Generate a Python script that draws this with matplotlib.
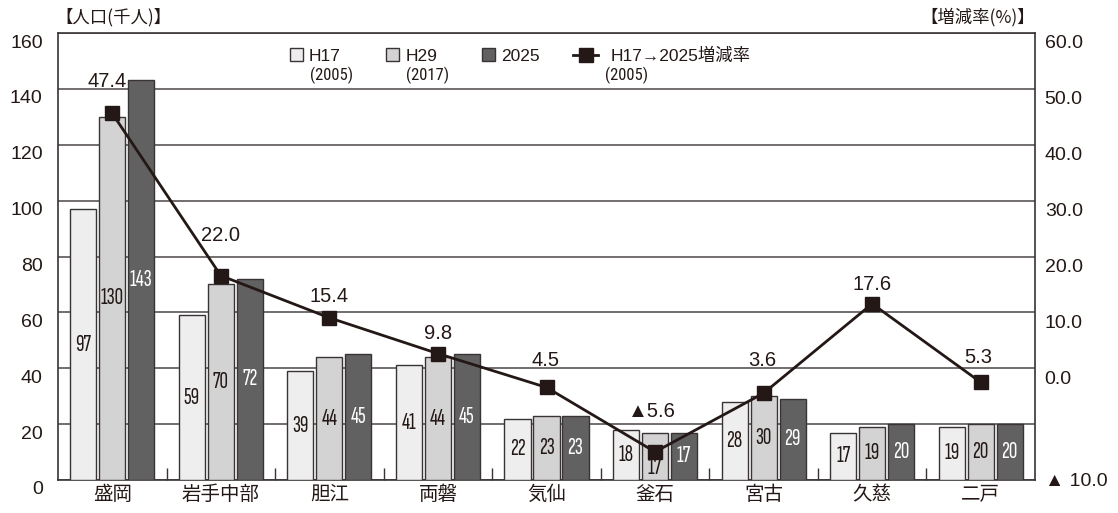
import matplotlib
matplotlib.use("Agg")
import matplotlib.pyplot as plt
import matplotlib.transforms as mtransforms
from matplotlib import font_manager
import numpy as np

# --- data -------------------------------------------------------------
regions = ["盛岡", "岩手中部", "胆江", "両磐", "気仙", "釜石", "宮古", "久慈", "二戸"]
pop_h17 = [97, 59, 39, 41, 22, 18, 28, 17, 19]
pop_h29 = [130, 70, 44, 44, 23, 17, 30, 19, 20]
pop_2025 = [143, 72, 45, 45, 23, 17, 29, 20, 20]
change_rate = [47.4, 22.0, 15.4, 9.8, 4.5, -5.6, 3.6, 17.6, 5.3]

left_ticks = [0, 20, 40, 60, 80, 100, 120, 140, 160]
right_tick_labels = ["▲ 10.0", "0.0", "10.0", "20.0", "30.0", "40.0", "50.0", "60.0"]

series_names = ["H17", "H29", "2025"]
series_years = ["(2005)", "(2017)", ""]
line_name = "H17→2025増減率"
line_year = "(2005)"

# --- fonts ------------------------------------------------------------
available = {f.name for f in font_manager.fontManager.ttflist}


def pick(*names):
    for n in names:
        if n in available:
            return n
    return "DejaVu Sans"


SANS = pick("Liberation Sans", "Arimo", "DejaVu Sans")
COND = pick("Roboto Condensed", "Fira Sans Condensed", "Sofia Sans Condensed", "Liberation Sans")
XCOND = pick("Sofia Sans Extra Condensed", "Fira Sans Extra Condensed", "Roboto Condensed", "Liberation Sans")
JP = "Noto Sans CJK JP"
plt.rcParams["font.family"] = [SANS, JP, "DejaVu Sans"]
INK = "#231815"

# --- figure -----------------------------------------------------------
fig = plt.figure(figsize=(11.18, 5.13), dpi=100)
ax = fig.add_axes([58 / 1118, 1 - 480 / 513, 977 / 1118, 447 / 513])

x = np.arange(len(regions))
step = 0.267
width = 0.24
colors = ["#eeeeee", "#d3d3d3", "#616161"]
text_colors = [INK, INK, "white"]
edge = "#3a3334"
# (series index, region index) -> vertical nudge of the value text, in pixels
label_nudge = {(1, 5): -12}

for i, (vals, c, tc) in enumerate(zip([pop_h17, pop_h29, pop_2025], colors, text_colors)):
    pos = x + (i - 1) * step
    ax.bar(pos, vals, width=width, color=c, edgecolor=edge, linewidth=1.0, zorder=3)
    for j, (px, v) in enumerate(zip(pos, vals)):
        dy = label_nudge.get((i, j), 0) * 0.72
        ax.annotate(str(v), (px, v / 2), xytext=(0, dy), textcoords="offset points",
                    ha="center", va="center", fontsize=17, color=tc,
                    family=[XCOND, "DejaVu Sans"], zorder=4)

ax.set_xlim(-0.5, len(regions) - 0.5)
ax.set_ylim(0, 160)
ax.set_yticks(left_ticks)
ax.set_yticklabels([str(t) for t in left_ticks], fontsize=14, color=INK)
ax.tick_params(axis="y", length=0, pad=11)
down = mtransforms.ScaledTranslation(0, -8 / 100, fig.dpi_scale_trans)
for lbl in ax.get_yticklabels():
    lbl.set_transform(lbl.get_transform() + down)
ax.set_xticks(x)
ax.set_xticklabels(regions, family=[JP], fontsize=14, color=INK)
ax.tick_params(axis="x", which="major", length=0, pad=3)
ax.set_xticks(np.arange(0.5, len(regions) - 0.5, 1.0), minor=True)
ax.tick_params(axis="x", which="minor", direction="in", length=8.5, width=1.0, color=edge)
ax.grid(axis="y", color="#5a5556", linewidth=1.2, zorder=0)
ax.set_axisbelow(True)
for s in ax.spines.values():
    s.set_color(edge)
    s.set_linewidth(1.2)

# --- change-rate line on the secondary axis ---------------------------
ax2 = ax.twinx()
ax2.set_ylim(-10, 60)
line, = ax2.plot(x, change_rate, color=INK, linewidth=2.0, marker="s",
                 markersize=10, markerfacecolor=INK, markeredgecolor=INK, zorder=5)
ax2.set_zorder(ax.get_zorder() + 1)
ax2.patch.set_visible(False)

# right-axis labels sit next to the left-axis gridlines
grid_left_vals = [0, 40, 60, 80, 100, 120, 140, 160]
right_pos = [v * 70 / 160 - 10 for v in grid_left_vals]
ax2.set_yticks(right_pos)
ax2.set_yticklabels(right_tick_labels, fontsize=14, color=INK, family=[SANS, JP, "DejaVu Sans"])
ax2.tick_params(axis="y", length=0, pad=7)
shift = mtransforms.ScaledTranslation(0, -9 / 100, fig.dpi_scale_trans)
for lbl in ax2.get_yticklabels()[1:]:
    lbl.set_transform(lbl.get_transform() + shift)
for s in ax2.spines.values():
    s.set_visible(False)

# value labels above the markers (pixel offsets)
label_offsets = [(-5, 32), (0, 40), (0, 21), (0, 20), (-1, 27), (-3, 40), (-1, 33), (0, 19), (-2, 25)]
for xi, v, (dx, dy) in zip(x, change_rate, label_offsets):
    txt = f"{v:.1f}" if v >= 0 else f"▲{abs(v):.1f}"
    ax2.annotate(txt, (xi, v), xytext=(dx * 0.72, dy * 0.72), textcoords="offset points",
                 ha="center", va="center", fontsize=14.5, color=INK,
                 family=[SANS, JP, "DejaVu Sans"], zorder=6)

# --- legends ------------------------------------------------------------
fs = 12.5
bar_handles = [plt.Rectangle((0, 0), 1, 1, facecolor=c, edgecolor=edge, linewidth=1.0) for c in colors]
leg1 = ax.legend(bar_handles, series_names, ncol=3, frameon=False, loc="center left",
                 bbox_to_anchor=((290 - 58) / 977, (480 - 56) / 447), borderpad=0, borderaxespad=0,
                 handlelength=0.75, handleheight=0.75, handletextpad=0.35, columnspacing=2.6,
                 prop={"family": [SANS, JP], "size": fs})
ax.add_artist(leg1)
leg2 = ax.legend([line], [line_name], frameon=False, loc="center left",
                 bbox_to_anchor=((573 - 58) / 977, (480 - 56) / 447), borderpad=0, borderaxespad=0,
                 handlelength=1.45, handletextpad=0.7, markerscale=1.0,
                 prop={"family": [SANS, JP, "DejaVu Sans"], "size": fs})
for lg in (leg1, leg2):
    lg.set_zorder(7)
    for t in lg.get_texts():
        t.set_color(INK)

fig.canvas.draw()
renderer = fig.canvas.get_renderer()
inv = fig.transFigure.inverted()
subs = list(zip(leg1.get_texts(), series_years, [1, 1, 0])) + [(leg2.get_texts()[0], line_year, -5)]
for t, sub, dx in subs:
    if not sub:
        continue
    bb = t.get_window_extent(renderer)
    fx, fy = inv.transform((bb.x0 + dx, (bb.y0 + bb.y1) / 2 - 19))
    fig.text(fx, fy, sub, ha="left", va="center", fontsize=12, color=INK,
             family=[COND, "DejaVu Sans"])

# --- axis captions -------------------------------------------------------
fig.text(55 / 1118, 1 - 17 / 513, "【人口(千人)】", ha="left", va="center",
         fontsize=12.5, family=[JP], color=INK)
fig.text(1035 / 1118, 1 - 17 / 513, "【増減率(%)】", ha="right", va="center",
         fontsize=12.5, family=[JP], color=INK)

fig.savefig("out.png", dpi=100)
